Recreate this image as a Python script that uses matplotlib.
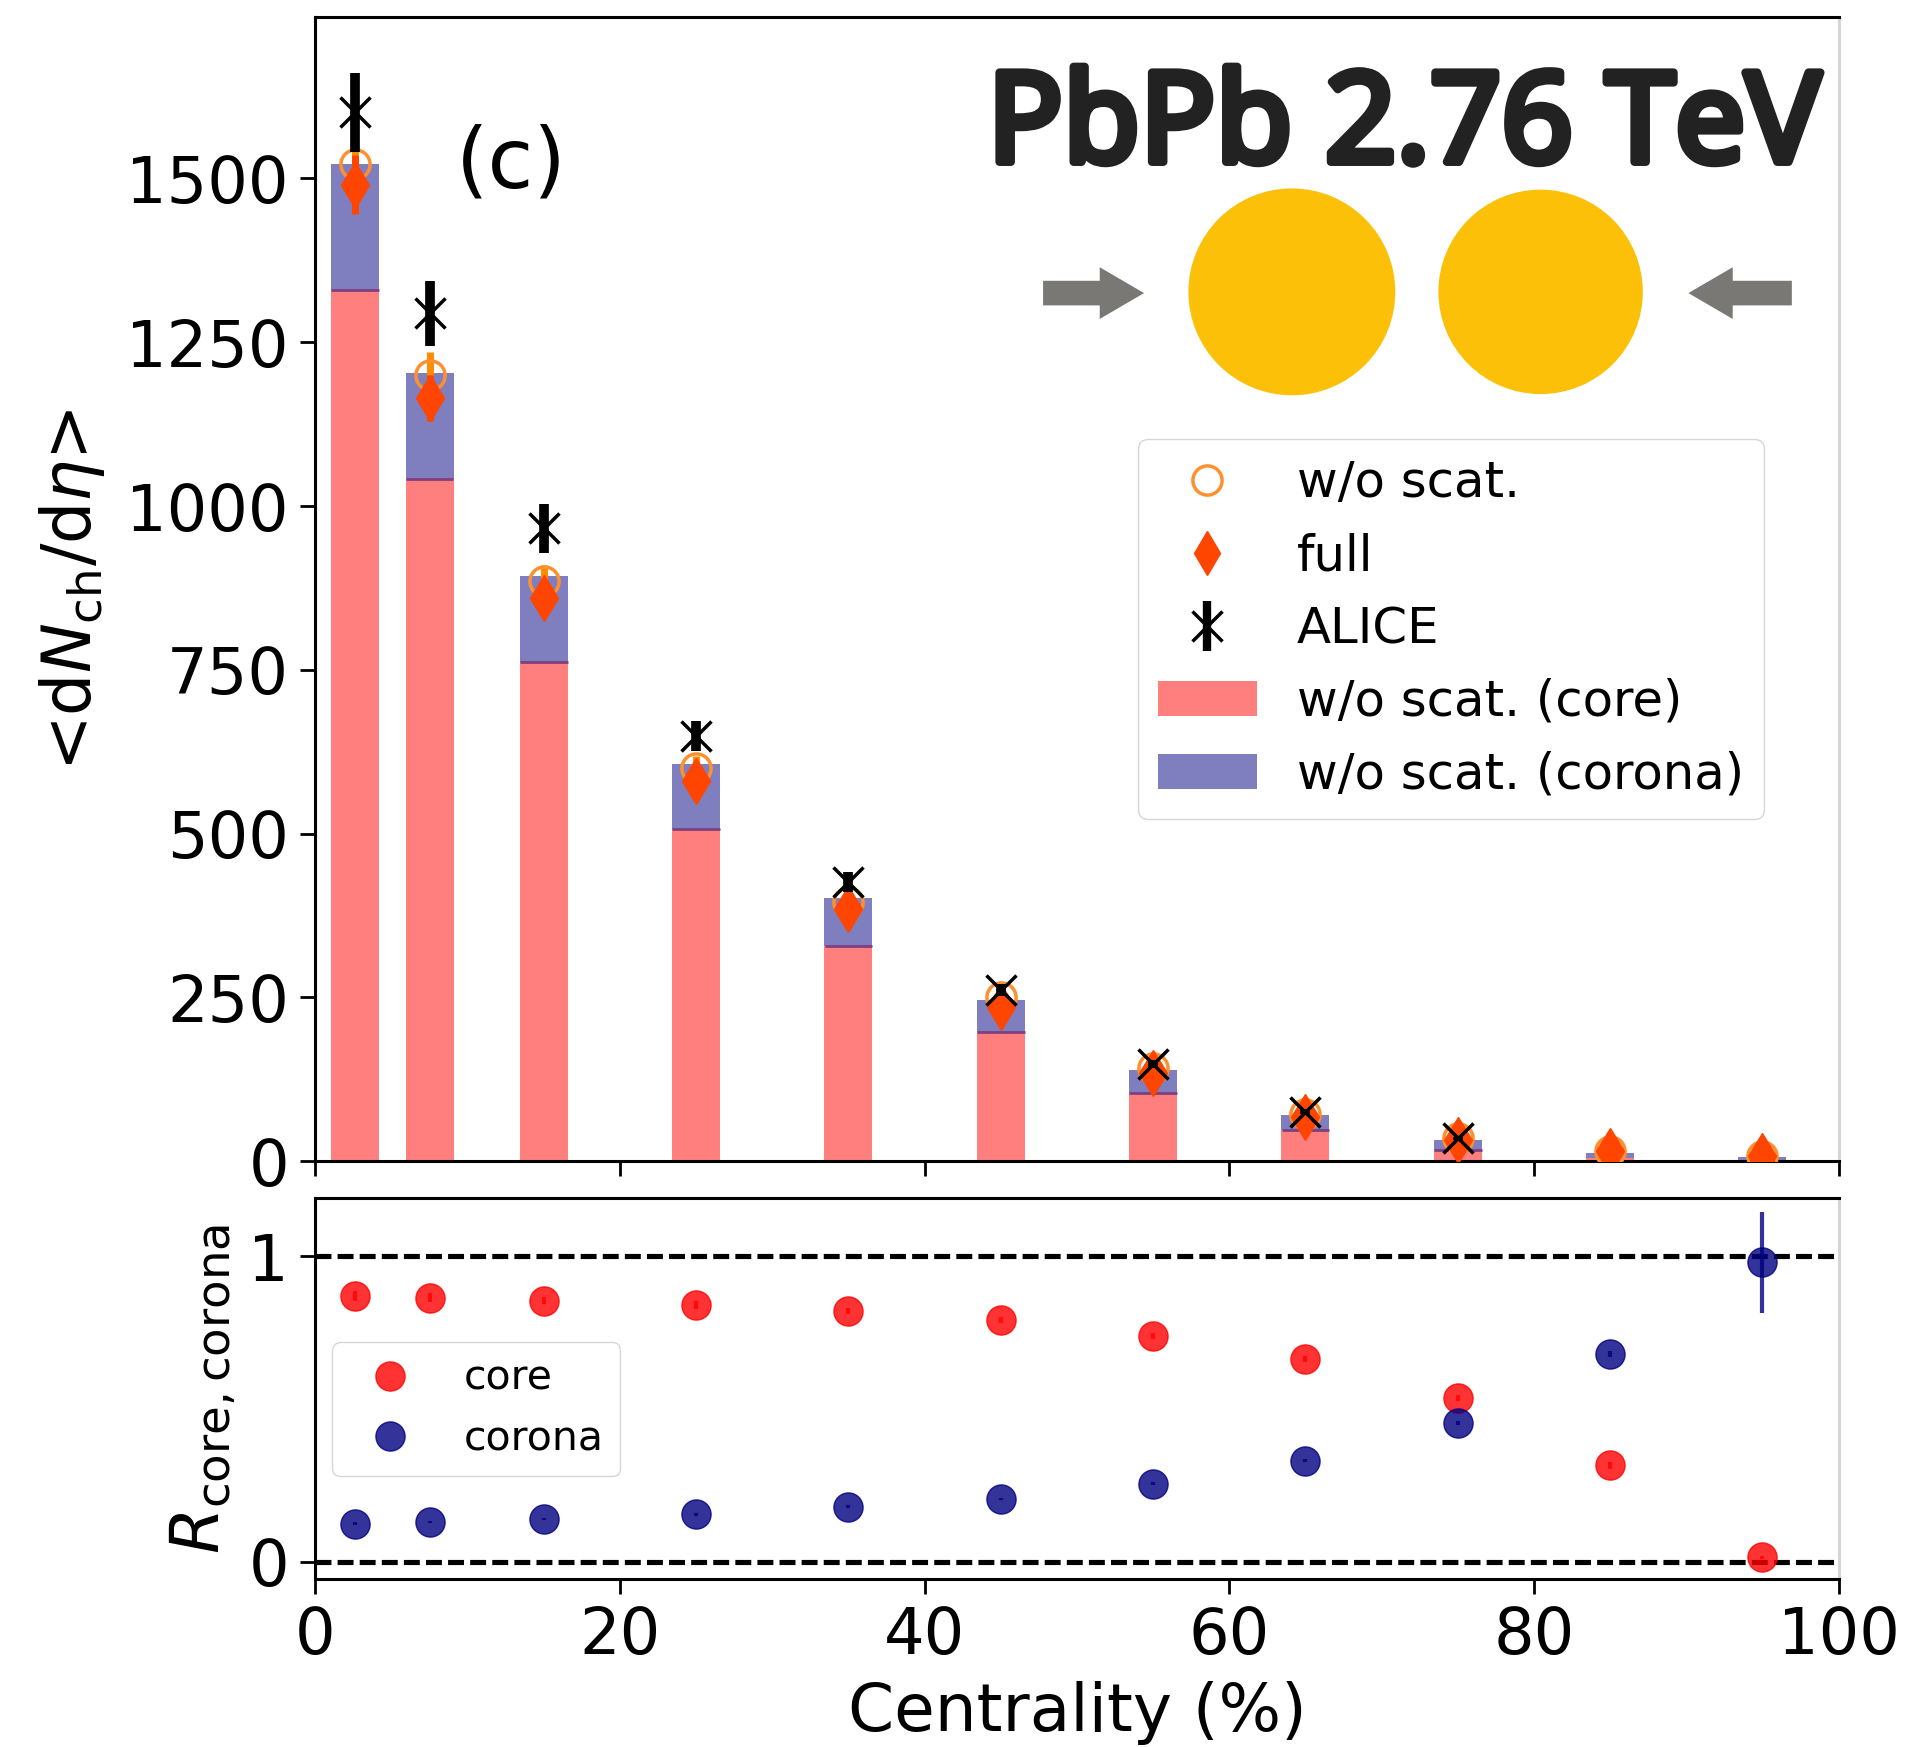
import matplotlib
matplotlib.use("Agg")
import matplotlib.pyplot as plt
from matplotlib.lines import Line2D
from matplotlib.patches import Circle, FancyArrow, Patch
from matplotlib.transforms import IdentityTransform
import matplotlib.patheffects as pe

W, H = 1931, 1747
S = 1931 / 1568

centrality = [2.6, 7.5, 15, 25, 35, 45, 55, 65, 75, 85, 95]
bar_widths = [3.15] * 11
core_bars = [1330, 1042, 762, 507, 328, 198, 105, 48, 17, 5, 1]
total_bars = [1522, 1203, 893, 606, 402, 246, 140, 70, 33, 12, 7]
alice_x = [2.6, 7.5, 15, 25, 35, 45, 55, 65, 75]
alice = [1601, 1294, 966, 649, 426, 261, 149, 76, 35]
alice_err = [60, 49, 37, 23, 15, 9, 6, 4, 2]
full = [1490, 1165, 860, 580, 385, 235, 135, 68, 32, 16, 8]
full_err = [45, 35, 28, 20, 15, 10, 7, 4, 2, 1, 1]
noscat = [1522, 1200, 885, 600, 395, 250, 142, 72, 36, 15, 8]
noscat_err = [45, 35, 25, 18, 12, 8, 5, 3, 2, 1, 1]
r_core = [0.87, 0.865, 0.855, 0.84, 0.82, 0.79, 0.74, 0.665, 0.535, 0.315, 0.015]
r_core_err = [0.015, 0.015, 0.012, 0.012, 0.01, 0.01, 0.01, 0.01, 0.01, 0.01, 0.005]
r_corona = [0.125, 0.13, 0.14, 0.155, 0.18, 0.205, 0.255, 0.33, 0.455, 0.68, 0.98]
r_corona_err = [0.004, 0.004, 0.004, 0.004, 0.004, 0.004, 0.005, 0.005, 0.006, 0.01, 0.165]
x_ticks = [0, 20, 40, 60, 80, 100]
y_ticks_top = [0, 250, 500, 750, 1000, 1250, 1500]
y_ticks_low = [0, 1]

FS = 46
plt.rcParams["font.family"] = ["DejaVu Sans"]
fig = plt.figure(figsize=(W / 100, H / 100), dpi=100)


def axes_box(l, t, r, b):
    return [l * S / W, 1 - b * S / H, (r - l) * S / W, (b - t) * S / H]


ax = fig.add_axes(axes_box(256, 14, 1493, 943))
ax2 = fig.add_axes(axes_box(256, 973, 1493, 1282))

corona_h = [t - c for t, c in zip(total_bars, core_bars)]
ax.bar(centrality, core_bars, width=bar_widths, color="red", alpha=0.5, lw=0, zorder=2)
ax.bar(centrality, corona_h, bottom=core_bars, width=bar_widths, color="navy", alpha=0.5, lw=0, zorder=2)
ax.hlines(core_bars[:9], [c - 1.57 for c in centrality[:9]], [c + 1.57 for c in centrality[:9]],
          color="#80407f", lw=2, zorder=2)

ax.errorbar(centrality, noscat, yerr=noscat_err, fmt="o", mfc="none", mec="#ff9030", mew=2.5,
            ms=21, ecolor="darkorange", elinewidth=5, zorder=3)
ax.errorbar(centrality, full, yerr=full_err, fmt="d", color="orangered", ms=23,
            elinewidth=5, zorder=4)
ax.errorbar(alice_x, alice, yerr=alice_err, fmt="x", color="k", ms=21, mew=2.5,
            elinewidth=7, zorder=5)

ax.set_xlim(0, 100)
ax.set_ylim(0, 1746)
ax.set_xticks(x_ticks)
ax.set_xticklabels([])
ax.set_yticks(y_ticks_top)
ax.set_ylabel(r"<d$N_{\mathrm{ch}}$/d$\eta$>", fontsize=48, labelpad=14)

handles = [
    Line2D([], [], ls="", marker="o", mfc="none", mec="#ff9030", mew=2.5, ms=21),
    Line2D([], [], ls="", marker="d", color="orangered", ms=22),
    (Line2D([], [], ls="", marker="x", color="k", ms=21, mew=2.5),
     Line2D([], [], ls="", marker="|", color="k", ms=36, mew=6)),
    Patch(color="red", alpha=0.5, lw=0),
    Patch(color="navy", alpha=0.5, lw=0),
]
labels = ["w/o scat.", "full", "ALICE", "w/o scat. (core)", "w/o scat. (corona)"]
ax.legend(handles, labels, loc="upper right", bbox_to_anchor=(0.951, 0.631),
          borderaxespad=0, fontsize=35.8)

ax.text(0.0925, 0.872, "(c)", transform=ax.transAxes, fontsize=60, va="center", ha="left")

ax2.errorbar(centrality, r_core, yerr=r_core_err, fmt="o", color="red", alpha=0.8, ms=21,
             elinewidth=3, zorder=3)
ax2.errorbar(centrality, r_corona, yerr=r_corona_err, fmt="o", color="navy", alpha=0.8, ms=21,
             elinewidth=3, zorder=3)
for yy in y_ticks_low:
    ax2.axhline(yy, color="k", lw=3.7, ls=(0, (3.1, 1.2)), zorder=2)
ax2.set_xlim(0, 100)
ax2.set_ylim(-0.056, 1.19)
ax2.set_xticks(x_ticks)
ax2.set_yticks(y_ticks_low)
ax2.set_xlabel("Centrality (%)", fontsize=47.5, labelpad=10)
ax2.set_ylabel(r"$R_{\mathrm{core,corona}}$", fontsize=48, labelpad=8)
ax2.legend([Line2D([], [], ls="", marker="o", color="red", alpha=0.8, ms=21),
            Line2D([], [], ls="", marker="o", color="navy", alpha=0.8, ms=21)],
           ["core", "corona"], loc="upper left", bbox_to_anchor=(0.0113, 0.621),
           borderaxespad=0, fontsize=29.5)

for a in (ax, ax2):
    a.tick_params(labelsize=FS, width=2, length=11, pad=8)
    for sp in a.spines.values():
        sp.set_linewidth(2.2)
    a.spines["right"].set_color("#d5d5d5")


# pasted collision sketch and title, placed in pixels of the page
def px(x, y):
    return x * S, H - y * S


tr = IdentityTransform()
fig.patches.append(Circle(px(1049, 237), 84 * S, color="#fcc008", transform=tr, lw=0))
fig.patches.append(Circle(px(1251, 237), 83 * S, color="#fcc008", transform=tr, lw=0))
x0, y0 = px(847, 238)
fig.patches.append(FancyArrow(x0, y0, 82 * S, 0, width=20 * S, head_width=42 * S, head_length=36 * S,
                              length_includes_head=True, color="#7a7874", lw=0, transform=tr))
x1, y1 = px(1455, 238)
fig.patches.append(FancyArrow(x1, y1, -84 * S, 0, width=20 * S, head_width=42 * S, head_length=36 * S,
                              length_includes_head=True, color="#7a7874", lw=0, transform=tr))
fig.text(1140 * S / W, 1 - 105 * S / H, "PbPb 2.76 TeV", family="Noto Sans",
         fontsize=90, color="#222222", ha="center", va="center",
         path_effects=[pe.withStroke(linewidth=6, foreground="#222222")])

fig.savefig("out.png", dpi=100)
